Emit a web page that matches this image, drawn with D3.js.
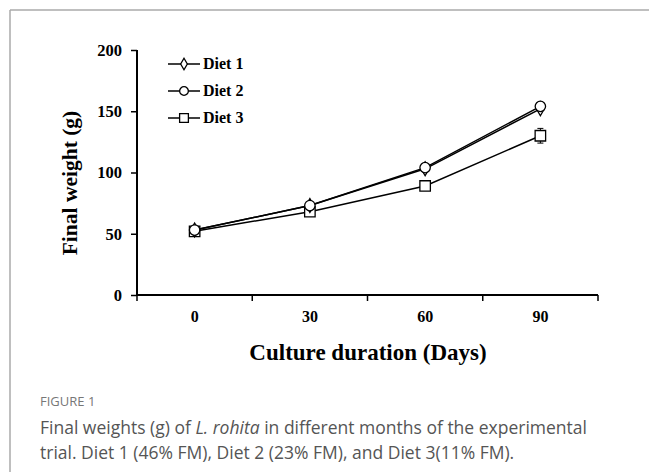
<!DOCTYPE html>
<meta charset="utf-8">
<script src="https://d3js.org/d3.v7.min.js"></script>
<style>
  body { margin: 0; background: #fff; }
</style>
<div id="graph"></div>
<script>

// the data
var days = ["0", "30", "60", "90"];
var diet1 = [53, 73, 103, 152];
var diet2 = [53, 73, 104, 154];
var diet3 = [52, 68, 89, 130];
var diet3Err = [2, 2, 2, 6];
var yTicks = [0, 50, 100, 150, 200];
var seriesNames = ["Diet 1", "Diet 2", "Diet 3"];

var svg = d3.select("#graph")
    .append("svg")
    .attr("width", 649)
    .attr("height", 472);

// page frame (top + left only)
svg.append("line").attr("x1", 10).attr("x2", 649).attr("y1", 10).attr("y2", 10)
    .attr("stroke", "#aaa").attr("stroke-width", 1.5);
svg.append("line").attr("x1", 10).attr("x2", 10).attr("y1", 10).attr("y2", 472)
    .attr("stroke", "#aaa").attr("stroke-width", 1.5);

// plot box (note: "top" is taken by window.top, so use pl* names)
var plLeft = 137, plRight = 598, plTop = 50, plBottom = 295;
var font = "'Liberation Serif', 'Times New Roman', serif";

var x = d3.scaleBand().domain(days).range([plLeft, plRight]);
var y = d3.scaleLinear().domain([0, 200]).range([plBottom, plTop]);

// x axis: ticks at band edges
var gx = svg.append("g").attr("transform", `translate(0, ${plBottom})`);
gx.append("line").attr("x1", plLeft).attr("x2", plRight).attr("stroke", "#000").attr("stroke-width", 2);
var edges = days.map(d => x(d)).concat([plRight]);
gx.selectAll(".xt").data(edges).join("line")
    .attr("x1", d => d).attr("x2", d => d).attr("y1", 0).attr("y2", 6)
    .attr("stroke", "#000").attr("stroke-width", 1.5);
gx.selectAll(".xl").data(days).join("text")
    .attr("x", d => x(d) + x.bandwidth() / 2)
    .attr("y", 27)
    .attr("text-anchor", "middle")
    .style("font-family", font).style("font-weight", "bold").style("font-size", "16px")
    .text(d => d);

// y axis
svg.append("g")
    .attr("transform", `translate(${plLeft}, 0)`)
    .call(d3.axisLeft(y).tickValues(yTicks).tickSize(6).tickPadding(9))
    .call(g => g.select(".domain").attr("stroke-width", 2).attr("d", `M0,${plBottom}V${plTop}`))
    .call(g => g.selectAll("line").attr("stroke-width", 1.5))
    .call(g => g.selectAll("text").style("font-family", font).style("font-weight", "bold").style("font-size", "16.5px"));

// axis titles
svg.append("text").attr("x", 368).attr("y", 360).attr("text-anchor", "middle")
    .style("font-family", font).style("font-weight", "bold").style("font-size", "23px")
    .text("Culture duration (Days)");
svg.append("text").attr("transform", "translate(77, 183) rotate(-90)").attr("text-anchor", "middle")
    .style("font-family", font).style("font-weight", "bold").style("font-size", "21.5px")
    .text("Final weight (g)");

// markers
var sym = [d3.symbolDiamond, d3.symbolCircle, d3.symbolSquare];
function marker(g, i, s) {
    var sizes = [55 * s, 85 * s, 110 * s];
    g.append("path")
        .attr("d", d3.symbol().type(sym[i]).size(sizes[i]))
        .attr("fill", "#fff").attr("stroke", "#000").attr("stroke-width", 1.3);
}

var line = d3.line().x(d => x(d.day) + x.bandwidth() / 2).y(d => y(d.v));
var all = [diet1, diet2, diet3];

// error bars for diet 3
svg.append("g").selectAll("g").data(days).join("g").each(function (d, j) {
    var cx = x(d) + x.bandwidth() / 2;
    var g = d3.select(this);
    g.append("line").attr("x1", cx).attr("x2", cx)
        .attr("y1", y(diet3[j] + diet3Err[j])).attr("y2", y(diet3[j] - diet3Err[j]))
        .attr("stroke", "#000").attr("stroke-width", 1);
    [1, -1].forEach(s => g.append("line").attr("x1", cx - 3).attr("x2", cx + 3)
        .attr("y1", y(diet3[j] + s * diet3Err[j])).attr("y2", y(diet3[j] + s * diet3Err[j]))
        .attr("stroke", "#000").attr("stroke-width", 1));
});

[2, 0, 1].forEach(function (i) {
    var pts = days.map((d, j) => ({ day: d, v: all[i][j] }));
    svg.append("path").datum(pts).attr("d", line)
        .attr("fill", "none").attr("stroke", "#000").attr("stroke-width", 1.5);
    pts.forEach(function (p) {
        var g = svg.append("g").attr("transform", `translate(${x(p.day) + x.bandwidth() / 2}, ${y(p.v)})`);
        marker(g, i, 1);
    });
});

// legend
seriesNames.forEach(function (name, i) {
    var ly = 64 + i * 27;
    svg.append("line").attr("x1", 168).attr("x2", 200).attr("y1", ly).attr("y2", ly)
        .attr("stroke", "#000").attr("stroke-width", 1.5);
    marker(svg.append("g").attr("transform", `translate(184, ${ly})`), i, 0.7);
    svg.append("text").attr("x", 203).attr("y", ly + 5)
        .style("font-family", font).style("font-weight", "bold").style("font-size", "16px")
        .text(name);
});

// caption
var cap = "'Open Sans', 'Noto Sans', sans-serif";
svg.append("text").attr("x", 40).attr("y", 406)
    .style("font-family", cap).style("font-size", "13px").style("fill", "#777")
    .text("FIGURE 1");
var t1 = svg.append("text").attr("x", 40).attr("y", 434)
    .style("font-family", cap).style("font-size", "17.5px").style("fill", "#555");
t1.append("tspan").text("Final weights (g) of ");
t1.append("tspan").style("font-style", "italic").text("L. rohita");
t1.append("tspan").text(" in different months of the experimental");
svg.append("text").attr("x", 40).attr("y", 459)
    .style("font-family", cap).style("font-size", "17.5px").style("fill", "#555")
    .text("trial. Diet 1 (46% FM), Diet 2 (23% FM), and Diet 3(11% FM).");

</script>
